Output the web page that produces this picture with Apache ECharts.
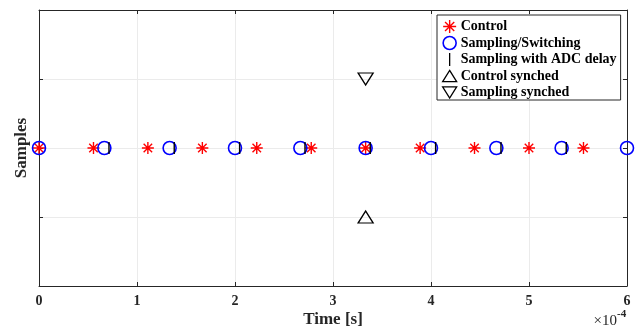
<!DOCTYPE html>
<html>
<head>
<meta charset="utf-8">
<script src="https://cdn.jsdelivr.net/npm/echarts@6/dist/echarts.min.js"></script>
<style>html,body{margin:0;padding:0;background:#fff}#c{width:641px;height:330px}</style>
</head>
<body>
<div id="c"></div>
<script>
// Data (time in seconds)
const controlTimes = [0, 0.556e-4, 1.111e-4, 1.667e-4, 2.222e-4, 2.778e-4, 3.333e-4, 3.889e-4, 4.444e-4, 5.0e-4, 5.556e-4];
const samplingTimes = [0, 0.667e-4, 1.333e-4, 2.0e-4, 2.667e-4, 3.333e-4, 4.0e-4, 4.667e-4, 5.333e-4, 6.0e-4];
const adcDelayTimes = [0.714e-4, 1.38e-4, 2.047e-4, 2.714e-4, 3.38e-4, 4.047e-4, 4.714e-4, 5.38e-4];
const controlSynchedTimes = [3.333e-4];
const controlSynchedValues = [-1];
const samplingSynchedTimes = [3.333e-4];
const samplingSynchedValues = [1];
const xTickLabels = ['0', '1', '2', '3', '4', '5', '6'];
const seriesNames = ['Control', 'Sampling/Switching', 'Sampling with ADC delay', 'Control synched', 'Sampling synched'];

const FONT = 'Liberation Serif';
const asterisk = 'path://M0,-1L0,1M-1,0L1,0M-0.707,-0.707L0.707,0.707M-0.707,0.707L0.707,-0.707';
const vbar = 'path://M0,0L0.1,0L0.1,1L0,1Z';
const triUp = 'path://M1,0L2,1.6L0,1.6Z';
const triDown = 'path://M0,0L2,0L1,1.6Z';

const pts = (xs, ys) => xs.map((x, i) => [x, ys ? ys[i] : 0]);

const chart = echarts.init(document.getElementById('c'), null, {renderer: 'canvas'});
chart.setOption({
  animation: false,
  backgroundColor: '#fff',
  grid: {left: 39, right: 14, top: 10, bottom: 44, containLabel: false, outerBoundsMode: 'none'},
  xAxis: [{
    type: 'value', min: 0, max: 6e-4, interval: 1e-4,
    name: 'Time [s]', nameLocation: 'middle', nameGap: 25, nameMoveOverlap: false,
    nameTextStyle: {fontFamily: FONT, fontWeight: 'bold', fontSize: 17, color: '#262626'},
    axisLine: {show: true, onZero: false, lineStyle: {color: '#262626', width: 1}},
    axisTick: {show: true, inside: true, length: 4, lineStyle: {color: '#262626'}},
    axisLabel: {fontFamily: FONT, fontWeight: 'bold', fontSize: 14, color: '#262626', margin: 8,
      formatter: v => xTickLabels[Math.round(v * 1e4)]},
    splitLine: {show: true, lineStyle: {color: '#ebebeb', width: 1}}
  }, {
    type: 'value', position: 'top', min: 0, max: 6e-4, interval: 1e-4,
    axisLine: {show: true, onZero: false, lineStyle: {color: '#262626'}},
    axisTick: {show: true, inside: true, length: 4, lineStyle: {color: '#262626'}},
    axisLabel: {show: false}, splitLine: {show: false}
  }],
  yAxis: [{
    type: 'value', min: -2, max: 2, interval: 1,
    name: 'Samples', nameLocation: 'middle', nameGap: 9, nameMoveOverlap: false,
    nameTextStyle: {fontFamily: FONT, fontWeight: 'bold', fontSize: 17, color: '#262626'},
    axisLine: {show: true, onZero: false, lineStyle: {color: '#262626'}},
    axisTick: {show: true, inside: true, length: 4, lineStyle: {color: '#262626'}},
    axisLabel: {show: false},
    splitLine: {show: true, lineStyle: {color: '#ebebeb', width: 1}}
  }, {
    type: 'value', position: 'right', min: -2, max: 2, interval: 1,
    axisLine: {show: true, onZero: false, lineStyle: {color: '#262626'}},
    axisTick: {show: true, inside: true, length: 4, lineStyle: {color: '#262626'}},
    axisLabel: {show: false}, splitLine: {show: false}
  }],
  legend: {
    orient: 'vertical', left: 437, top: 15,
    padding: [4, 4, 0, 5], itemGap: 1.5, itemWidth: 14, itemHeight: 13,
    backgroundColor: '#fff', borderColor: '#262626', borderWidth: 1, borderRadius: 0,
    textStyle: {fontFamily: FONT, fontWeight: 'bold', fontSize: 14, lineHeight: 15, color: '#000', padding: [0, 0, 0, -1]},
    data: [
      {name: seriesNames[0], icon: asterisk, itemStyle: {color: 'rgba(0,0,0,0)', borderColor: '#ff0000', borderWidth: 1.4}},
      {name: seriesNames[1], icon: 'circle', itemStyle: {color: 'rgba(0,0,0,0)', borderColor: '#0000ff', borderWidth: 1.6}},
      {name: seriesNames[2], icon: vbar, itemStyle: {color: '#000', borderWidth: 0}},
      {name: seriesNames[3], icon: triUp, itemStyle: {color: 'rgba(0,0,0,0)', borderColor: '#000', borderWidth: 1.3}},
      {name: seriesNames[4], icon: triDown, itemStyle: {color: 'rgba(0,0,0,0)', borderColor: '#000', borderWidth: 1.3}}
    ]
  },
  series: [
    {name: seriesNames[0], type: 'scatter', data: pts(controlTimes), symbol: asterisk, symbolSize: 12, symbolKeepAspect: true,
     itemStyle: {color: 'rgba(0,0,0,0)', borderColor: '#ff0000', borderWidth: 1.4, opacity: 1}},
    {name: seriesNames[1], type: 'scatter', data: pts(samplingTimes), symbol: 'circle', symbolSize: 13,
     itemStyle: {color: 'rgba(0,0,0,0)', borderColor: '#0000ff', borderWidth: 1.6, opacity: 1}},
    {name: seriesNames[2], type: 'scatter', data: pts(adcDelayTimes), symbol: 'rect', symbolSize: [1.4, 12],
     itemStyle: {color: '#000', opacity: 1}},
    {name: seriesNames[3], type: 'scatter', data: pts(controlSynchedTimes, controlSynchedValues), symbol: triUp, symbolSize: [15, 12],
     itemStyle: {color: 'rgba(0,0,0,0)', borderColor: '#000', borderWidth: 1.3, opacity: 1}},
    {name: seriesNames[4], type: 'scatter', data: pts(samplingSynchedTimes, samplingSynchedValues), symbol: triDown, symbolSize: [15, 12],
     itemStyle: {color: 'rgba(0,0,0,0)', borderColor: '#000', borderWidth: 1.3, opacity: 1}}
  ],
  graphic: [
    {type: 'text', right: 24, top: 314, style: {text: '×10', fontFamily: FONT, fontSize: 15, fill: '#262626', fontWeight: 'normal'}},
    {type: 'text', left: 617, top: 309, style: {text: '-4', fontFamily: FONT, fontSize: 11, fontWeight: 'bold', fill: '#262626'}}
  ]
});
</script>
</body>
</html>
